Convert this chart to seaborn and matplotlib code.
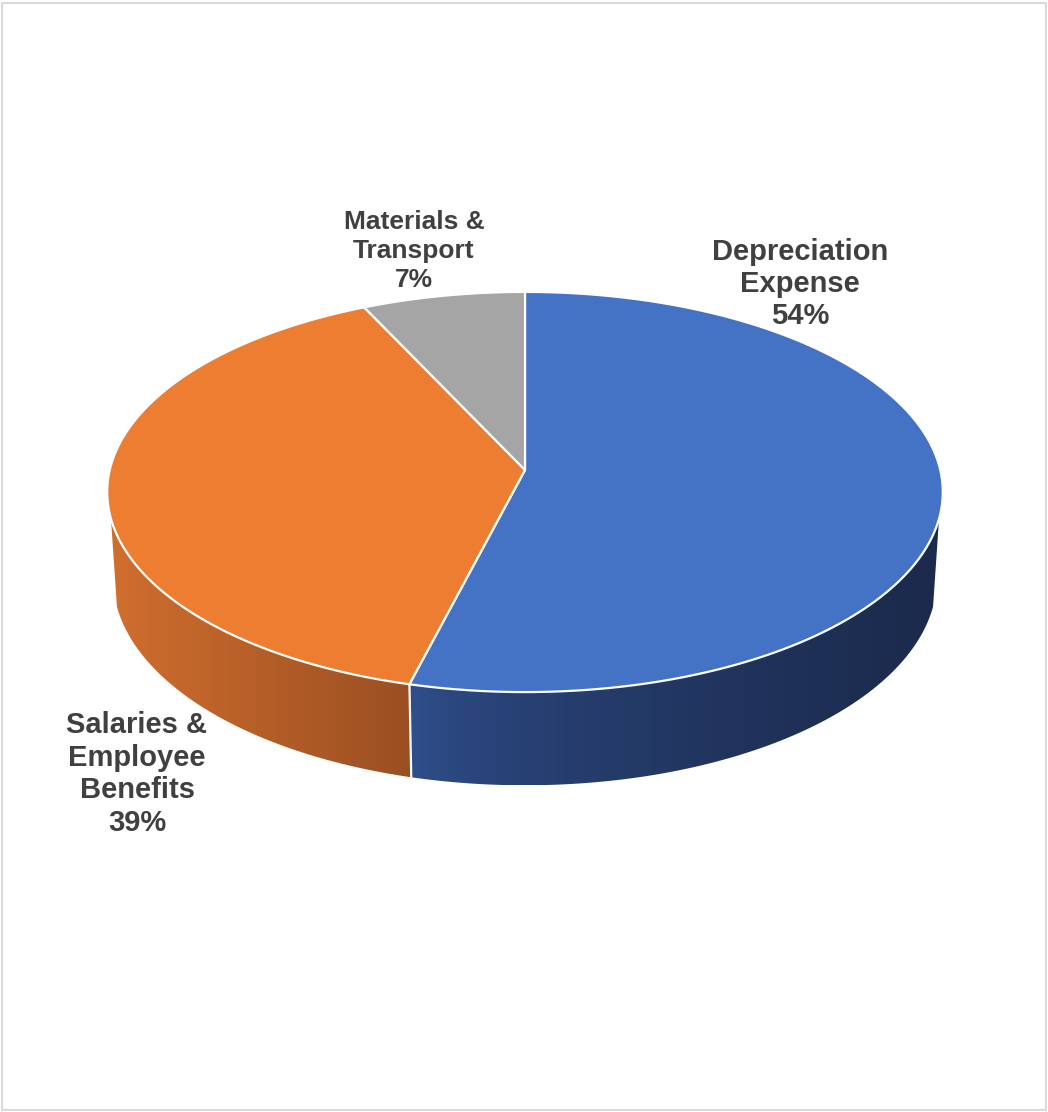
import numpy as np
import matplotlib
matplotlib.use("Agg")
import matplotlib.pyplot as plt
import seaborn as sns
from matplotlib.patches import Polygon, Rectangle
from matplotlib.colors import to_rgb

# ---------------- data ----------------
categories = ["Depreciation Expense", "Salaries & Employee Benefits", "Materials & Transport"]
label_lines = [["Depreciation", "Expense"], ["Salaries &", "Employee", "Benefits"], ["Materials &", "Transport"]]
values = [54, 39, 7]

# ---------------- style ----------------
sns.set_theme(style="white")
plt.rcParams["font.family"] = ["Liberation Sans", "DejaVu Sans"]
top_colors = sns.color_palette(["#4472C4", "#ED7D31", "#A5A5A5"])
wall_colors = [("#30508F", "#1B2A4C"), ("#D06E2E", "#9A4F22"), ("#7A7A7A", "#5A5A5A")]
text_color = "#404040"
label_xy = [(800, 284), (137, 774), (414, 251)]
label_size = [21, 21, 19]
label_spacing = [1.2, 1.2, 1.25]

# ---------------- geometry (pixel layout) ----------------
W, Hpx = 1048, 1112
CX, CY = 525, 470
F, D = 3322.0, 8.0
SA = 0.476
CA = np.sqrt(1 - SA ** 2)
THICK = 0.2395
VCUT = -0.24


def proj(u, v, z):
    depth = D + v * CA - z * SA
    x = CX + F * u / depth
    y = CY - F * (v * SA + z * CA) / depth
    return np.column_stack([x, y])


fig = plt.figure(figsize=(W / 100, Hpx / 100), dpi=100)
ax = fig.add_axes([0, 0, 1, 1])

total = float(sum(values))
edges = np.concatenate([[0], np.cumsum(values)]) / total * 2 * np.pi
front_lo = np.arccos(VCUT)
front_hi = 2 * np.pi - front_lo

# walls
for i in range(len(values)):
    t0, t1 = edges[i], edges[i + 1]
    a0, a1 = max(t0, front_lo), min(t1, front_hi)
    if a1 <= a0:
        continue
    th = np.linspace(a0, a1, 200)
    u, v = np.sin(th), np.cos(th)
    top = proj(u, v, np.zeros_like(th))
    bot = proj(u, v, np.full_like(th, -THICK))
    pts = np.vstack([top, bot[::-1]])
    patch = Polygon(pts, closed=True, facecolor="none", edgecolor="none")
    ax.add_patch(patch)
    xmin, xmax = pts[:, 0].min(), pts[:, 0].max()
    ymin, ymax = pts[:, 1].min(), pts[:, 1].max()
    c0, c1 = np.array(to_rgb(wall_colors[i][0])), np.array(to_rgb(wall_colors[i][1]))
    t = np.linspace(0, 1, 256)
    ramp = t ** 0.6 if i == 0 else t
    grad = c0[None, :] * (1 - ramp[:, None]) + c1[None, :] * ramp[:, None]
    im = ax.imshow(grad[None, :, :], extent=[xmin, xmax, ymax, ymin], aspect="auto",
                   interpolation="bilinear", zorder=1)
    im.set_clip_path(patch)

# seams on the wall
for e in edges[1:-1]:
    if front_lo < e < front_hi:
        p = proj(np.array([np.sin(e)] * 2), np.array([np.cos(e)] * 2), np.array([0.0, -THICK]))
        ax.plot(p[:, 0], p[:, 1], color="white", lw=1.6, zorder=2, solid_capstyle="butt")

# top faces
for i in range(len(values)):
    th = np.linspace(edges[i], edges[i + 1], 300)
    arc = proj(np.sin(th), np.cos(th), np.zeros_like(th))
    pts = np.vstack([[CX, CY], arc])
    ax.add_patch(Polygon(pts, closed=True, facecolor=top_colors[i], edgecolor="white",
                         lw=1.6, joinstyle="round", zorder=3))

# labels
for i in range(len(values)):
    txt = "\n".join(label_lines[i] + [f"{values[i]}%"])
    ax.text(label_xy[i][0], label_xy[i][1], txt, ha="center", va="center",
            multialignment="center", fontsize=label_size[i], fontweight="bold",
            color=text_color, linespacing=label_spacing[i], zorder=5)

# frame
ax.add_patch(Rectangle((2, 3), 1044, 1107, facecolor="none", edgecolor="#D9D9D9", lw=1.5, zorder=6))

ax.set_xlim(0, W)
ax.set_ylim(Hpx, 0)
ax.axis("off")
fig.savefig("out.png", dpi=100, facecolor="white")
